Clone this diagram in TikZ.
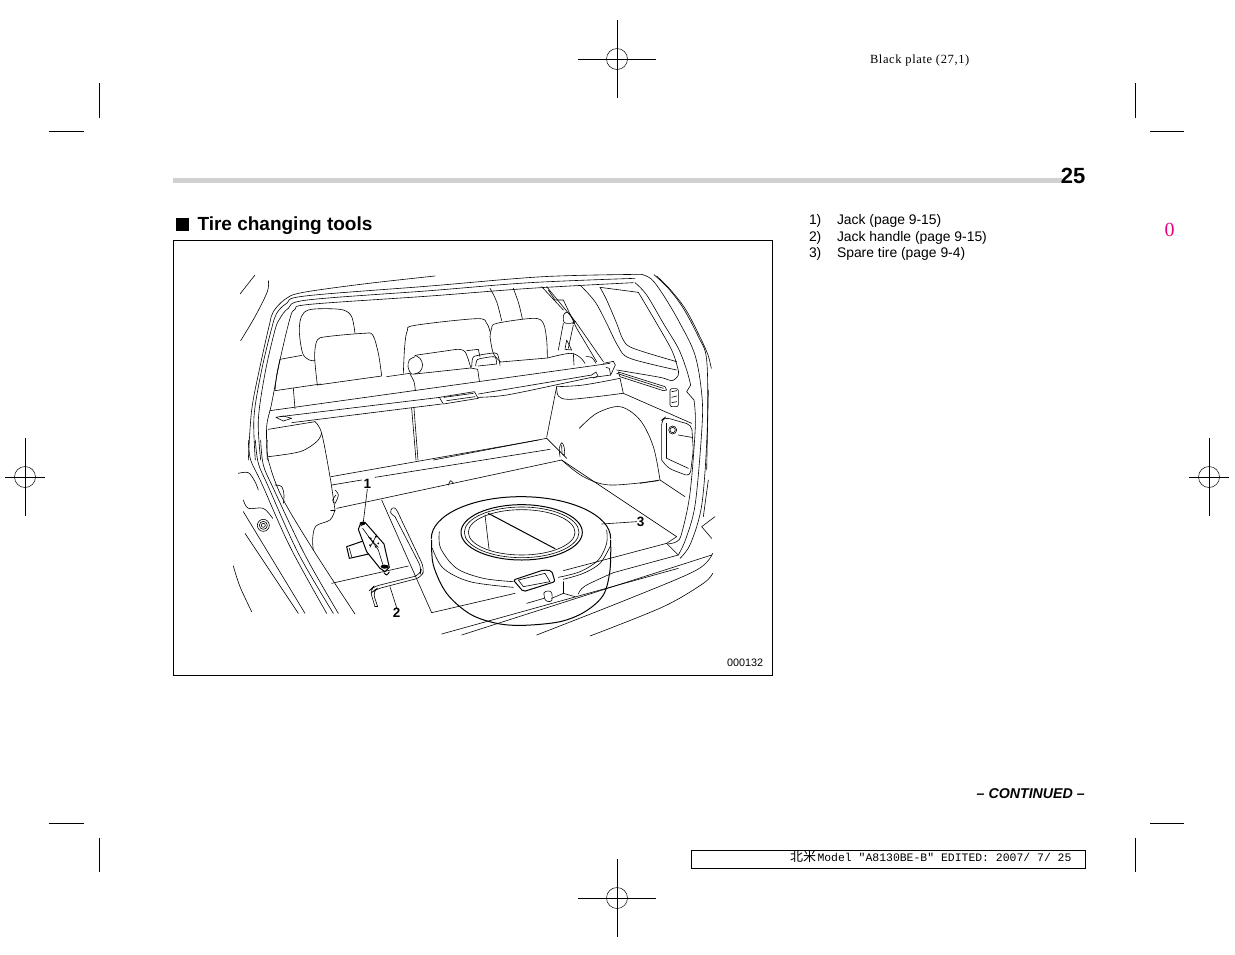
\documentclass[tikz,border=0pt]{standalone}
\usepackage{fontspec}
\setmainfont{Liberation Sans}
\newfontfamily\serifx[LetterSpace=5]{Liberation Serif}
\newfontfamily\serify{Liberation Serif}
\newfontfamily\monox{Liberation Mono}
\newfontfamily\cjkx{Noto Sans CJK JP}
\definecolor{barg}{gray}{0.82}
\definecolor{pinkx}{RGB}{230,0,125}
\tikzset{
 ln/.style={line width=0.6pt,line cap=round,line join=round},
 hv/.style={line width=1pt,line cap=round,line join=round},
 mk/.style={line width=0.5pt},
 tx/.style={inner sep=0pt,outer sep=0pt,anchor=base west},
 lst/.style={tx,font=\fontsize{13.9}{13.9}\selectfont},
 callout/.style={inner sep=0pt,font=\bfseries\fontsize{13.5}{13.5}\selectfont}
}
\newcommand{\crv}[2][ln]{\draw[#1] plot[smooth,tension=0.55] coordinates {#2};}
\newcommand{\regmark}[3]{%
 \draw[mk] (#1-#3,#2)--(#1+#3,#2) (#1,#2-39)--(#1,#2+39);
 \draw[mk] (#1,#2) circle (10.5);}
\begin{document}
\begin{tikzpicture}[x=1pt,y=-1pt]
\useasboundingbox (0,0) rectangle (1235,954);
\fill[white] (0,0) rectangle (1235,954);
% printer marks
\regmark{617}{59}{39}\regmark{617}{898}{39}\regmark{25}{477}{20}\regmark{1209}{477}{20}
\draw[mk] (99,83)--(99,118) (49,131)--(84,131) (1135,83)--(1135,118) (1150,131)--(1184,131)
 (49,823)--(84,823) (99,838)--(99,872) (1135,838)--(1135,872) (1150,823)--(1184,823);
\node[tx,font=\serifx\fontsize{12.5}{12.5}\selectfont] (plate) at (870,63.5) {Black plate (27,1)};
% header
\fill[barg] (173,177.5) rectangle (1062,183);
\node[inner sep=0pt,anchor=base east,font=\bfseries\fontsize{22}{22}\selectfont] (pg) at (1085.5,183.5) {25};
\node[tx,text=pinkx,font=\serify\fontsize{20}{20}\selectfont] (zero) at (1164.5,236) {0};
\fill (176,218) rectangle (189,231);
\node[tx,font=\bfseries\fontsize{19}{19}\selectfont] (title) at (197.5,230) {Tire changing tools};
\node[lst] at (809,224) {1)};
\node[lst] at (837,224) {Jack (page 9-15)};
\node[lst] at (809,241) {2)};
\node[lst] at (837,241) {Jack handle (page 9-15)};
\node[lst] at (809,257) {3)};
\node[lst] at (837,257) {Spare tire (page 9-4)};
\draw[line width=0.8pt] (173.5,240) rectangle (772.5,675);
\node[tx,font=\fontsize{10.8}{10.8}\selectfont] (code) at (727,666) {000132};
\node[inner sep=0pt,anchor=base east,font=\bfseries\itshape\fontsize{14.2}{14.2}\selectfont] (cont) at (1085,798) {– CONTINUED –};
\draw[line width=0.7pt] (691.5,850) rectangle (1085.5,868);
\node[tx,font=\monox\fontsize{11.44}{11.44}\selectfont] (foot) at (790,861.5) {{\cjkx\fontsize{13}{13}\selectfont 北米}\kern1.5pt Model "A8130BE-B" EDITED: 2007/ 7/ 25};

% ===== upper half, coordinates of the 3x crop at (230,260)
\begin{scope}[shift={(230,260)},scale=1/3]
% opening frame
\crv{(75,45)(30,102)}
\crv{(115,62)(112,95)(75,170)(32,242)}
\crv{(615,48)(400,72)(215,98)(165,118)(130,155)(118,195)(90,320)(65,450)(55,600)}
\crv{(1235,43)(940,50)(600,78)(225,108)(170,130)(140,160)(125,205)(95,330)(72,470)(76,600)}
\crv{(1215,55)(900,68)(600,92)(232,120)(175,145)(150,175)(135,210)(105,340)(85,480)(92,600)}
\crv{(1210,68)(900,85)(600,108)(240,133)(195,148)(180,175)(150,300)(125,430)(110,500)(112,600)}
% right side frame, all the way down to the sill
\crv{(1215,68)(1250,105)(1300,190)(1345,265)(1370,330)(1382,375)}
\draw[ln] (1382,375)--(1370,395)--(1392,420);
\crv{(1392,420)(1396,500)(1380,700)(1355,820)(1340,845)(1312,852)}
\crv{(1235,43)(1265,58)(1300,105)(1350,190)(1395,285)(1415,400)(1416,500)(1396,730)(1368,835)(1345,885)}
\crv{(1272,44)(1315,85)(1360,145)(1405,230)(1430,300)(1432,500)(1416,730)(1382,850)(1350,895)}
\crv{(1280,48)(1322,90)(1368,150)(1412,235)(1434,285)(1444,325)}
\draw[ln] (1435,390)--(1430,630);
\draw[ln] (1435,660)--(1420,770);
\draw[ln] (1415,800)--(1455,770) (1415,800)--(1445,835);
% rear quarter window
\crv{(1110,82)(1130,120)(1160,190)(1180,240)(1210,265)(1340,305)}
\draw[ln] (1110,82)--(1225,97);
\crv{(1225,97)(1280,190)(1325,270)(1342,320)(1345,345)(1325,362)(1290,352)(1160,330)}
\crv{(1050,75)(1095,125)(1130,190)(1165,260)(1200,295)(1340,330)}
% pillars behind seats
\crv{(780,85)(800,125)(815,182)}
\crv{(850,85)(866,130)(877,176)}
\draw[ln] (935,80)--(1000,150) (950,80)--(1040,190)--(1120,305);
\draw[ln] (955,90)--(975,120)--(1000,120)--(1040,205)--(1100,305);
% belt
\draw[ln,rounded corners=3pt] (1000,160)--(1015,155)--(1035,185)--(1030,190)--(1000,190)--cycle;
\draw[ln] (1000,190)--(985,270) (1030,195)--(1015,265);
\draw[ln] (1010,240)--(1005,268)--(1025,270)--(1010,240);
% left rear headrest
\crv{(375,220)(365,170)(340,150)(285,146)(235,150)(214,170)(208,215)(218,280)(238,300)(255,302)}
% left front headrest
\crv{(262,375)(256,320)(254,280)(262,240)(290,230)(400,220)(428,225)(445,280)(455,347)}
\draw[ln] (262,375)--(455,348);
% centre back and right headrest
\crv{(520,340)(524,260)(532,212)(555,196)(740,176)(770,190)(780,215)}
\crv{(780,230)(785,205)(800,190)(910,175)(940,190)(950,240)(952,292)}
\crv{(780,230)(790,280)(812,306)}
\draw[ln] (812,306)--(952,294);
% roll
\crv{(555,290)(538,300)(534,320)(542,340)(552,342)(570,335)(578,315)(570,295)(555,286)}
\draw[ln] (555,286)--(680,268);
\crv{(680,268)(705,275)(722,322)}
\draw[ln] (555,342)--(722,324);
\draw[ln] (722,324)--(743,328)--(748,362);
\crv{(540,342)(552,365)(556,392)}
\draw[ln] (470,350)--(540,340);
\draw[ln] (710,272)--(745,268)--(750,290);
% handle loop
\crv{(725,322)(728,295)(740,287)(795,279)(805,290)(810,316)}
\crv{(737,318)(740,302)(750,296)(790,290)(798,296)(800,312)}
\draw[ln] (745,318)--(800,312);
% seat backs
\draw[ln] (135,392)--(272,372);
\draw[ln] (190,385)--(195,446);
\draw[ln] (150,298)--(216,286);
\crv{(150,298)(140,345)(135,392)}
\crv{(952,294)(1020,280)(1050,292)(1065,310)}
\crv{(1068,290)(1085,292)(1098,310)}
\draw[ln] (1030,280)--(1032,315);
% cargo cover
\draw[ln] (120,452)--(1140,310);
\draw[ln] (150,470)--(630,412);
\draw[ln] (745,402)--(1085,345);
\draw[ln] (185,488)--(635,432);
\crv{(745,412)(830,405)(1000,370)(1085,352)}
\draw[ln] (138,472)--(160,468)--(185,475)--(160,483)--cycle;
\draw[ln] (628,412)--(733,395)--(745,415)--(640,432)--cycle;
\draw[ln] (642,412)--(730,400) (650,422)--(735,410);
\draw[ln] (1120,310)--(1150,304)--(1156,315)--(1142,345)--(1085,353);
\draw[ln] (1085,345)--(1098,336)--(1104,348)--(1090,354);
\draw[ln] (1128,322)--(1138,325)--(1142,345);
% below cover, left
\draw[ln] (115,508)--(255,485);
\crv{(255,485)(275,520)(300,650)(315,750)}
\crv{(115,590)(210,575)(260,545)(275,520)}
% centre split
\draw[ln] (545,445)--(558,600) (552,445)--(564,600);
% right wheel arch
\crv{(980,380)(985,408)(1015,418)(1100,410)(1178,400)}
\crv{(980,380)(1060,375)(1170,355)}
\draw[ln] (1170,355)--(1180,400);
\draw[ln] (980,380)--(950,532);
\draw[ln] (1180,400)--(1385,490);
\crv{(1048,505)(1100,460)(1170,440)(1230,480)(1270,560)(1290,660)}
\draw[ln] (1230,670)--(1290,660)--(1365,710);
\draw[ln] (1160,340)--(1300,385);
\draw[ln] (1165,336)--(1305,380)--(1310,390)--(1300,392)--(1170,350)--cycle;
\draw[ln,rounded corners=2pt] (1320,386) rectangle (1345,440);
\draw[ln] (1325,395)--(1340,392) (1325,412)--(1340,408) (1325,428)--(1340,425);
% side recess
\draw[ln,rounded corners=5pt] (1295,600)--(1295,480)--(1305,472)--(1385,495)--(1390,570)--(1380,650)--(1315,625)--(1295,600);
\draw[ln] (1310,595)--(1310,490);
\draw[ln] (1310,595)--(1375,625);
\draw[ln] (1328,510) circle (12);
\draw[ln] (1328,510) circle (8);
\draw[ln] (1345,525)--(1385,532);
% rear floor edge
\draw[ln] (950,535)--(610,600);
\draw[ln] (950,535)--(1010,595);
% tie loop
\crv{(990,590)(988,565)(995,548)(1002,560)(1004,585)(998,582)}
\draw[ln] (995,556)--(996,578);
\end{scope}

% ===== lower half, coordinates of the 3x crop at (230,440)
\begin{scope}[shift={(230,440)},scale=1/3]
% left frame continued
\crv{(55,0)(62,60)(95,130)(180,320)(290,520)}
\crv{(76,0)(85,70)(115,140)(205,340)(310,520)}
\crv{(92,0)(100,75)(130,145)(225,345)(325,520)}
\crv{(112,0)(115,60)(155,170)(250,330)(375,522)}
% left body
\crv{(25,100)(55,98)(75,125)(85,150)}
\crv{(135,135)(155,140)(162,165)(160,190)}
\crv{(40,180)(55,205)(100,205)(128,235)}
\draw[ln] (40,215)--(225,520);
\draw[ln] (45,280)--(205,520);
\crv{(10,378)(30,440)(65,515)}
\draw[ln] (100,256) circle (18);
\draw[ln] (100,256) circle (12);
\draw[ln] (100,256) circle (6);
% pillar right of frame
\crv{(315,210)(300,240)(258,258)(248,295)(250,332)}
\draw[ln] (302,210)--(315,210);
\crv{(315,150)(325,165)(315,190)(308,180)(318,165)}
% floor rear panels
\draw[ln] (303,110)--(925,0);
\draw[ln] (305,135)--(395,120);
\draw[ln] (435,112)--(960,28);
\draw[ln] (320,205)--(995,60);
\crv{(655,135)(662,122)(670,130)}
\draw[ln] (455,180)--(605,518);
\draw[ln] (995,60)--(1340,290);
\crv{(995,60)(1060,110)(1140,135)(1285,122)}
% bumper and sill
\draw[ln] (1340,290)--(1310,310);
\draw[ln] (1310,310)--(1345,345);
\draw[ln] (1310,310)--(1000,392);
\draw[ln] (1345,345)--(1150,398);
\crv{(1045,462)(1065,438)(1150,398)}
\draw[ln] (605,518)--(855,460);
\draw[ln] (635,582)--(1345,385);
\draw[ln] (695,585)--(1445,345);
\crv{(920,585)(1200,475)(1400,390)(1448,340)}
\crv{(1080,588)(1300,500)(1420,430)(1448,400)}
% jack bay
\draw[ln] (305,430)--(535,378);
% spare tyre
\crv[hv]{(605,300)(610,375)(650,460)(720,522)(800,550)(880,556)(990,545)(1065,515)(1120,465)(1140,390)(1142,300)}
\draw[hv] (604,295) arc [start angle=180,end angle=360,x radius=269,y radius=125];
\crv{(628,275)(632,325)(680,385)(760,415)(850,425)}
\crv{(607,325)(640,385)(720,425)(850,442)}
\crv{(1130,270)(1130,310)(1105,360)(1050,395)(985,412)}
\crv{(1140,320)(1110,370)(1060,400)(1000,418)}
\draw[hv] (875,277) ellipse [x radius=182,y radius=83];
\draw[ln] (875,277) ellipse [x radius=172,y radius=76];
\draw[ln] (875,277) ellipse [x radius=160,y radius=68];
\draw[hv] (775,220)--(975,326);
\draw[ln] (765,225)--(777,327);
% plate in sill
\draw[hv,rounded corners=2pt] (850,420)--(940,390)--(965,392)--(975,425)--(880,455)--cycle;
\draw[ln] (865,420)--(945,400)--(960,425)--(880,440)--cycle;
\draw[ln] (1000,425)--(1000,460);
\draw[ln] (890,490)--(942,475);
\draw[ln] (965,475)--(1000,460)--(1035,470);
\crv{(945,478)(942,458)(955,453)(965,458)(965,482)(952,484)(945,478)}
% jack
\draw[hv,fill=white] (350,320)--(408,300)--(425,340)--(358,355)--cycle;
\draw[ln] (358,325)--(365,350);
\draw[hv,fill=white] (385,268)--(392,250)--(405,247)--(462,312)--(478,382)--(465,395)--(450,385)--(410,335)--cycle;
\draw[ln] (392,258)--(405,250);
\draw[ln] (398,265)--(445,330)--(462,385);
\fill (398,250) ellipse (9 and 5);
\fill (464,380) ellipse (12 and 6);
\fill (422,295) circle (3) (438,290) circle (3) (430,305) circle (3) (445,310) circle (3) (420,315) circle (3) (437,320) circle (3);
\draw[ln] (415,290)--(445,322) (440,285)--(420,322);
\crv[hv]{(462,398)(470,405)(478,396)}
% jack handle
\crv{(495,230)(482,218)(486,205)(496,205)(505,220)}
\draw[ln,rounded corners=6pt] (495,230)--(575,385)--(570,405)--(430,440)--(420,450)--(435,500);
\draw[ln,rounded corners=6pt] (505,220)--(583,385)--(575,412)--(437,448)--(428,455)--(443,500);
\draw[ln] (435,500)--(443,500);
% callouts
\node[callout] (c1) at (412,133) {1};
\node[callout] (c2) at (500,518) {2};
\node[callout] (c3) at (1232,245) {3};
\coordinate (t1) at (400,246);
\coordinate (t2) at (480,440);
\coordinate (t3) at (1115,252);
\draw[ln] (c1.south) -- (t1);
\draw[ln] (c2.north) -- (t2);
\draw[ln] (c3.west) -- (t3);
\end{scope}
\end{tikzpicture}
\end{document}
